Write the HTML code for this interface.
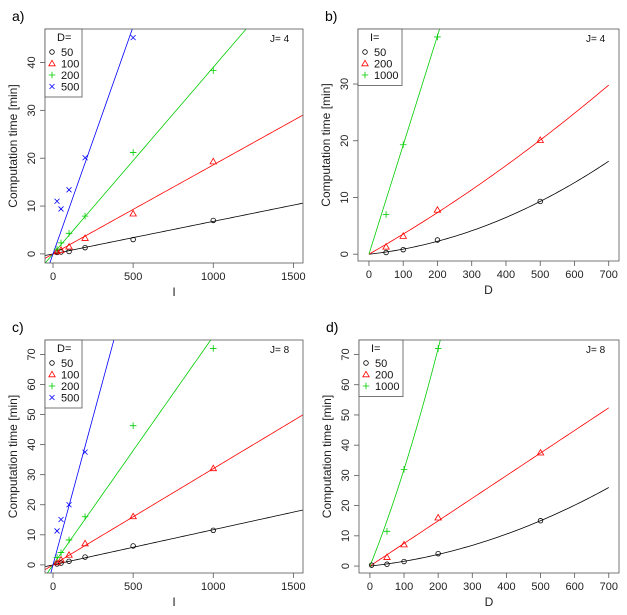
<!DOCTYPE html>
<html><head><meta charset="utf-8"><style>
html,body{margin:0;padding:0;background:#fff;}
svg{display:block;font-family:"Liberation Sans",Arial,sans-serif;}
</style></head><body>
<svg id="chart" width="627" height="615" viewBox="0 0 627 615" xmlns="http://www.w3.org/2000/svg"></svg>
<script>
// ---- data ----
const xI = [25, 50, 100, 200, 500, 1000];
const xD = [50, 100, 200, 500];
const legendA = ["50", "100", "200", "500"];
const legendB = ["50", "200", "1000"];
// panel a (J=4): time vs I, series per D
const aD50 = [0.3, 0.4, 0.5, 1.3, 3.0, 7.0];
const aD100 = [0.5, 0.8, 1.5, 3.3, 8.4, 19.3];
const aD200 = [1.0, 2.3, 4.3, 7.9, 21.2, 38.3];
const aD500 = [11.0, 9.4, 13.4, 20.1, 45.2];
const aSlopes = [0.0068, 0.0186, 0.039, 0.095];
// panel b (J=4): time vs D, series per I
const bI50 = [0.3, 0.8, 2.5, 9.3];
const bI200 = [1.3, 3.2, 7.8, 20.1];
const bI1000 = [7.0, 19.3, 38.3];
const bLin = [0.00653, 0.0343, 0.1925];
const bQuad = [0.00002414, 0.00001186, 0];
// panel c (J=8)
const cD50 = [0.3, 0.6, 1.2, 2.6, 6.3, 11.5];
const cD100 = [0.8, 1.7, 3.3, 7.1, 16.1, 32.1];
const cD200 = [2.5, 4.1, 8.3, 16.0, 46.3, 72.0];
const cD500 = [11.3, 15.1, 20.0, 37.5];
const cSlopes = [0.0117, 0.032, 0.076, 0.197];
// panel d (J=8)
const dI50 = [0.3, 0.6, 1.5, 4.1, 15.0];
const dI200 = [2.9, 7.1, 16.0, 37.5];
const dI1000 = [11.5, 32.0, 72.0];
const dLin = [0.01214, 0.0748, 0.28];
const dQuad = [0.0000357, 0, 0.0004];
const xDd = [5, 50, 100, 200, 500];
const xTicksI = [0, 500, 1000, 1500];
const xTicksD = [0, 100, 200, 300, 400, 500, 600, 700];
const yTicksA = [0, 10, 20, 30, 40];
const yTicksB = [0, 10, 20, 30];
const yTicksC = [0, 10, 20, 30, 40, 50, 60, 70];

const colors = ["#000000", "#ff0000", "#00cd00", "#0000ff"];
const NS = "http://www.w3.org/2000/svg";
const svg = document.getElementById("chart");
function mk(tag, attrs, parent) {
  const e = document.createElementNS(NS, tag);
  for (const k in attrs) e.setAttribute(k, attrs[k]);
  (parent || svg).appendChild(e);
  return e;
}
function marker(g, type, x, y, col) {
  let e;
  if (type === 0) e = mk("circle", {cx: x, cy: y, r: 2.3, fill: "none", stroke: col, "stroke-width": 0.8}, g);
  else if (type === 1) e = mk("polygon", {points: `${x},${y-3.2} ${x-3.2},${y+2.3} ${x+3.2},${y+2.3}`, fill: "none", stroke: col, "stroke-width": 0.8}, g);
  else if (type === 2) e = mk("path", {d: `M${x-3.3},${y}H${x+3.3}M${x},${y-3.3}V${y+3.3}`, stroke: col, "stroke-width": 0.8}, g);
  else e = mk("path", {d: `M${x-2.5},${y-2.5}L${x+2.5},${y+2.5}M${x-2.5},${y+2.5}L${x+2.5},${y-2.5}`, stroke: col, "stroke-width": 0.8}, g);
  
  
}
function panel(p) {
  const g = mk("g", {});
  
  
  const sx = v => p.x0 + (v - p.xmin) / (p.xmax - p.xmin) * (p.x1 - p.x0);
  const sy = v => p.y1 - (v - p.ymin) / (p.ymax - p.ymin) * (p.y1 - p.y0);
  const clip = "clip-" + p.name;
  const cp = mk("clipPath", {id: clip}, g);
  mk("rect", {x: p.x0, y: p.y0, width: p.x1 - p.x0, height: p.y1 - p.y0}, cp);
  const pl = mk("text", {x: p.x0 - 33, y: p.y0 - 8, "font-size": 14}, g);
  pl.textContent = p.label;
  
  
  const lg = mk("g", {"clip-path": `url(#${clip})`}, g);
  const lo = p.curveFrom !== undefined ? p.curveFrom : p.xmin;
  const hi = p.curveTo !== undefined ? p.curveTo : p.xmax;
  p.series.forEach((s, i) => {
    let d = "";
    for (let k = 0; k <= 80; k++) {
      const xv = lo + (hi - lo) * k / 80;
      const yv = p.lin[i] * xv + (p.quad ? p.quad[i] * xv * xv : 0);
      d += (d ? "L" : "M") + sx(xv).toFixed(2) + "," + sy(yv).toFixed(2);
    }
    const ln = mk("path", {d: d, fill: "none", stroke: colors[i], "stroke-width": 0.8}, lg);
    
    
  });
  p.series.forEach((s, i) => {
    const xs = p.xsFor ? p.xsFor[i] : p.xs;
    s.forEach((v, k) => marker(lg, i, sx(xs[k]), sy(v), colors[i]));
  });
  const bx = mk("rect", {x: p.x0, y: p.y0, width: p.x1 - p.x0, height: p.y1 - p.y0, fill: "none", stroke: "#555", "stroke-width": 0.8}, g);
  
  
  p.xticks.forEach(t => {
    const X = sx(t);
    mk("line", {x1: X, x2: X, y1: p.y1, y2: p.y1 + 5, stroke: "#555", "stroke-width": 0.8}, g);
    const tx = mk("text", {x: X, y: p.y1 + 17, "font-size": 11, "text-anchor": "middle", fill: "#222"}, g);
    tx.textContent = t;
    
    
  });
  p.yticks.forEach(t => {
    const Y = sy(t);
    mk("line", {x1: p.x0 - 5, x2: p.x0, y1: Y, y2: Y, stroke: "#555", "stroke-width": 0.8}, g);
    const tx = mk("text", {x: 0, y: 0, "font-size": 11, "text-anchor": "middle", fill: "#222", transform: `translate(${p.x0 - 10},${Y}) rotate(-90)`}, g);
    tx.textContent = t;
    
    
  });
  const xt = mk("text", {x: (p.x0 + p.x1) / 2, y: p.y1 + 33, "font-size": 12, "text-anchor": "middle", fill: "#222"}, g);
  xt.textContent = p.xlab;
  
  
  const yt = mk("text", {x: 0, y: 0, "font-size": 12, "text-anchor": "middle", fill: "#222", transform: `translate(${p.x0 - 28},${(p.y0 + p.y1) / 2}) rotate(-90)`}, g);
  yt.textContent = "Computation time [min]";
  
  
  const jl = mk("text", {x: p.x1 - 33, y: p.y0 + 13, "font-size": 10, fill: "#111"}, g);
  jl.textContent = p.jlab;
  
  
  const leg = mk("g", {}, g);
  
  
  const n = p.legend.length;
  mk("rect", {x: p.x0, y: p.y0, width: p.legW, height: 16 + n * 11.5 + 6, fill: "#fff", stroke: "#555", "stroke-width": 0.8}, leg);
  const lt = mk("text", {x: p.x0 + 12, y: p.y0 + 12, "font-size": 11, fill: "#111"}, leg);
  lt.textContent = p.legTitle;
  
  
  p.legend.forEach((s, i) => {
    const Y = p.y0 + 23 + i * 11.5;
    marker(leg, i, p.x0 + 7, Y, colors[i]);
    const t = mk("text", {x: p.x0 + 16, y: Y + 4, "font-size": 11, fill: "#111"}, leg);
    t.textContent = s;
    
    
  });
}
panel({name: "panel-a", label: "a)", x0: 45, x1: 303, y0: 29, y1: 263, xmin: -50, xmax: 1560, ymin: -1.9, ymax: 47,
  xs: xI, series: [aD50, aD100, aD200, aD500], lin: aSlopes, xticks: xTicksI, yticks: yTicksA, xlab: "I", jlab: "J= 4",
  legend: legendA, legTitle: "D=", legW: 37});
panel({name: "panel-b", label: "b)", x0: 358, x1: 619, y0: 29, y1: 261, xmin: -32, xmax: 730, ymin: -1.2, ymax: 39.7,
  xs: xD, series: [bI50, bI200, bI1000], lin: bLin, quad: bQuad, curveFrom: 0, curveTo: 700, xticks: xTicksD, yticks: yTicksB, xlab: "D", jlab: "J= 4",
  legend: legendB, legTitle: "I=", legW: 44});
panel({name: "panel-c", label: "c)", x0: 45, x1: 303, y0: 340, y1: 573, xmin: -50, xmax: 1560, ymin: -2.7, ymax: 74.8,
  xs: xI, series: [cD50, cD100, cD200, cD500], lin: cSlopes, xticks: xTicksI, yticks: yTicksC, xlab: "I", jlab: "J= 8",
  legend: legendA, legTitle: "D=", legW: 37});
panel({name: "panel-d", label: "d)", x0: 359, x1: 619, y0: 340, y1: 573, xmin: -32, xmax: 730, ymin: -2.3, ymax: 74.8,
  xs: xD, xsFor: [xDd, xD, xD], series: [dI50, dI200, dI1000], lin: dLin, quad: dQuad, curveFrom: 0, curveTo: 700, xticks: xTicksD, yticks: yTicksC, xlab: "D", jlab: "J= 8",
  legend: legendB, legTitle: "I=", legW: 44});
</script>
</body></html>
